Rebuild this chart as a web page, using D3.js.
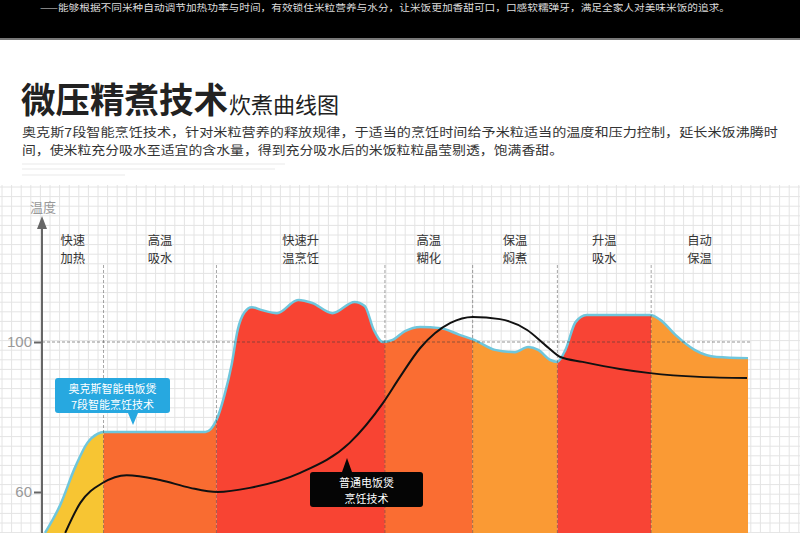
<!DOCTYPE html>
<html><head><meta charset="utf-8">
<script src="https://cdn.jsdelivr.net/npm/d3@7"></script>
<style>
html,body{margin:0;padding:0;background:#fff;}
svg{display:block;font-family:"Noto Sans CJK SC","Noto Sans",sans-serif;}
</style></head>
<body>
<svg id="c" width="800" height="533"></svg>
<script>
// ---- data ----
const phaseBounds = [0, 6.1, 17.3, 34.0, 42.7, 51.1, 60.4, 70];
const phaseLabels = [["快速","加热"],["高温","吸水"],["快速升","温烹饪"],["高温","糊化"],["保温","焖煮"],["升温","吸水"],["自动","保温"]];
const phaseColors = ["#f7c533","#f96c31","#f84433","#fa6d32","#fa9a34","#f84435","#fa9a34"];
const yTicks = [60, 100];
// smart cooker temperature curve: [time, temperature]
const smartT = [0.3,1.8,3.3,4.5,5.5,6.1,16.2,17.3,18.1,18.8,19.4,20.1,20.8,21.8,23.3,25.4,26.8,28.8,31.0,32.0,32.9,33.8,34.7,36.0,37.5,39.5,41.4,42.9,44.9,46.9,48.2,49.2,50.4,51.1,51.9,52.9,54.0,60.3,61.3,62.8,64.7,66.9,70];
const smartV = [49.1,56.5,66.7,73.1,75.5,76,76,79.2,85.9,93.9,103.2,108,109.3,108.5,107.7,111.2,110.4,107.7,110.7,109.6,103.2,100,100.5,102.9,104,103.7,101.9,100.5,97.9,97.3,98.7,97.9,95.2,94.7,97.9,105.3,107.2,107.2,105.9,101.9,97.9,96,95.7];
// ordinary cooker curve
const normT = [2.3,3.8,6.0,8.4,11.7,14.7,17.4,20.6,25.6,30.5,33.8,35.5,37.5,40.5,42.7,45.4,48.1,50.1,51.4,53.6,57.3,60.3,65.2,69.9];
const normV = [49.1,57.1,62.4,64.5,63.2,61.1,60,61.1,65.1,73.1,83.7,90.7,98.4,105.1,106.7,106.1,103.2,98.7,96,94.7,92.8,91.7,90.7,90.4];

const title1 = "微压精煮技术", title2 = "炊煮曲线图";
const para = ["奥克斯7段智能烹饪技术，针对米粒营养的释放规律，于适当的烹饪时间给予米粒适当的温度和压力控制，延长米饭沸腾时",
              "间，使米粒充分吸水至适宜的含水量，得到充分吸水后的米饭粒粒晶莹剔透，饱满香甜。"];
const topText = "——能够根据不同米种自动调节加热功率与时间，有效锁住米粒营养与水分，让米饭更加香甜可口，口感软糯弹牙，满足全家人对美味米饭的追求。";
const calloutSmart = ["奥克斯智能电饭煲","7段智能烹饪技术"];
const calloutNorm = ["普通电饭煲","烹饪技术"];

// ---- drawing ----
const svg = d3.select("#c");
const W = 800, H = 533;
const x = d3.scaleLinear().domain([0,70]).range([42,748]);
const y = d3.scaleLinear().domain([60,100]).range([492,342]);
const bottom = H;

// top black band
svg.append("rect").attr("x",0).attr("y",0).attr("width",W).attr("height",38).attr("fill","#000");
svg.append("rect").attr("x",0).attr("y",38).attr("width",W).attr("height",2).attr("fill","#777");
svg.append("text").attr("x",40).attr("y",11).attr("fill","#ddd").attr("font-size",9.5)
  .attr("textLength",690).attr("lengthAdjust","spacingAndGlyphs").text(topText);

// titles
svg.append("text").attr("x",21).attr("y",113).attr("font-size",35).attr("font-weight","bold").attr("fill","#222")
  .attr("textLength",207).attr("lengthAdjust","spacingAndGlyphs").text(title1);
svg.append("text").attr("x",229).attr("y",112.5).attr("font-size",22).attr("fill","#222")
  .attr("textLength",110).attr("lengthAdjust","spacingAndGlyphs").text(title2);
svg.append("text").attr("x",22).attr("y",137).attr("font-size",12.4).attr("fill","#333")
  .attr("textLength",756).attr("lengthAdjust","spacingAndGlyphs").text(para[0]);
svg.append("text").attr("x",22).attr("y",155.2).attr("font-size",12.4).attr("fill","#333")
  .attr("textLength",541).attr("lengthAdjust","spacingAndGlyphs").text(para[1]);
// faint lines under paragraph
[[164,285],[169,275],[175,125]].forEach(d=>svg.append("line").attr("x1",22).attr("x2",d[1]).attr("y1",d[0]).attr("y2",d[0]).attr("stroke","#f0f0f0").attr("stroke-width",1.5));

// grid
const grid = svg.append("g");
for (let gx = 2; gx <= W; gx += 9.6) grid.append("line").attr("x1",gx).attr("x2",gx).attr("y1",185).attr("y2",H).attr("stroke","#e4e4e4").attr("stroke-width",1);
for (let gy = 187; gy <= H; gy += 9.6) grid.append("line").attr("x1",0).attr("x2",W).attr("y1",gy).attr("y2",gy).attr("stroke","#e4e4e4").attr("stroke-width",1);

// area
const smart = smartT.map((t,i)=>({t, v:smartV[i]}));
const norm = normT.map((t,i)=>({t, v:normV[i]}));
const area = d3.area().x(d=>x(d.t)).y0(bottom).y1(d=>y(d.v)).curve(d3.curveMonotoneX);
const line = d3.line().x(d=>x(d.t)).y(d=>y(d.v)).curve(d3.curveMonotoneX);

const defs = svg.append("defs");
phaseColors.forEach((c,i)=>{
  defs.append("clipPath").attr("id","ph"+i).append("rect")
    .attr("x",x(phaseBounds[i])).attr("y",0).attr("width",x(phaseBounds[i+1])-x(phaseBounds[i])).attr("height",H);
  svg.append("path").datum(smart).attr("d",area).attr("fill",c).attr("clip-path",`url(#ph${i})`);
});
svg.append("path").datum(smart).attr("d",line).attr("fill","none").attr("stroke","#6fc6dc").attr("stroke-width",2.5);

// dashed 100 line
svg.append("line").attr("x1",x(0)).attr("x2",750).attr("y1",y(100)).attr("y2",y(100))
  .attr("stroke","rgba(60,60,60,0.55)").attr("stroke-width",1).attr("stroke-dasharray","3,2");
// separators
phaseBounds.slice(1,-1).forEach(b=>{
  svg.append("line").attr("x1",x(b)).attr("x2",x(b)).attr("y1",265).attr("y2",H)
    .attr("stroke","rgba(60,60,60,0.45)").attr("stroke-width",1).attr("stroke-dasharray","3,2");
});

// phase labels
phaseLabels.forEach((lb,i)=>{
  const cx = x((phaseBounds[i]+phaseBounds[i+1])/2);
  lb.forEach((s,j)=>svg.append("text").attr("x",cx).attr("y",245+j*18).attr("text-anchor","middle")
    .attr("font-size",12.3).attr("fill","#333").text(s));
});

// ordinary line
svg.append("path").datum(norm).attr("d",line).attr("fill","none").attr("stroke","#111").attr("stroke-width",2);

// y axis
svg.append("line").attr("x1",42).attr("x2",42).attr("y1",224).attr("y2",H).attr("stroke","#666").attr("stroke-width",2);
svg.append("path").attr("d","M42,216 L37,229 L47,229 Z").attr("fill","#666");
svg.append("text").attr("x",43).attr("y",212).attr("text-anchor","middle").attr("font-size",13).attr("fill","#999").text("温度");
const ax = svg.append("g").attr("transform","translate(42,0)")
  .call(d3.axisLeft(y).tickValues(yTicks).tickSize(8).tickPadding(2));
ax.select(".domain").remove();
ax.selectAll(".tick line").attr("stroke","#666").attr("stroke-width",2);
ax.selectAll(".tick text").attr("fill","#999").attr("font-size",15).attr("font-family","Liberation Sans, Arial, sans-serif");

// callouts
function callout(x0,y0,w,h,tipX,tipY,fill,lines,up){
  const g = svg.append("g");
  g.append("rect").attr("x",x0).attr("y",y0).attr("width",w).attr("height",h).attr("rx",3).attr("fill",fill);
  if (up) g.append("path").attr("d",`M${tipX-5},${y0} L${tipX},${tipY} L${tipX+5},${y0} Z`).attr("fill",fill);
  else g.append("path").attr("d",`M${tipX-5},${y0+h} L${tipX},${tipY} L${tipX+5},${y0+h} Z`).attr("fill",fill);
  lines.forEach((s,j)=>g.append("text").attr("x",x0+w/2).attr("y",y0+15+j*16).attr("text-anchor","middle")
    .attr("font-size",11).attr("fill","#fff").text(s));
}
callout(55,378,115,35,133,425,"#27a8e0",calloutSmart,false);
callout(310,472,113,35,347,458,"#050505",calloutNorm,true);
</script>
</body></html>
